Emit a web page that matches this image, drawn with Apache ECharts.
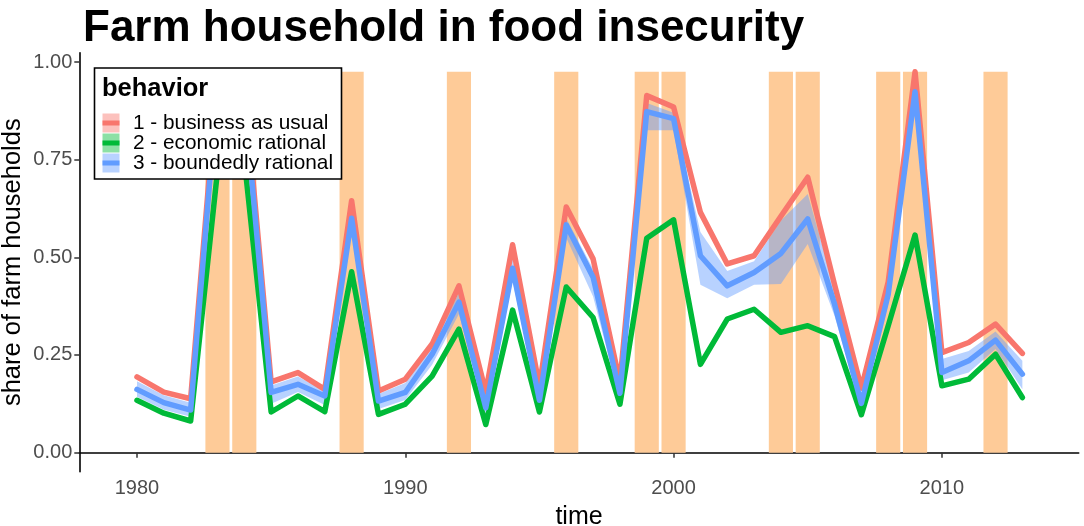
<!DOCTYPE html>
<html>
<head>
<meta charset="utf-8">
<script src="https://cdn.jsdelivr.net/npm/echarts@6/dist/echarts.min.js"></script>
<style>
html,body{margin:0;padding:0;background:#fff;}
#chart{width:1084px;height:526px;}
</style>
</head>
<body>
<div id="chart"></div>
<script>
var years = [1980,1981,1982,1983,1984,1985,1986,1987,1988,1989,1990,1991,1992,1993,1994,1995,1996,1997,1998,1999,2000,2001,2002,2003,2004,2005,2006,2007,2008,2009,2010,2011,2012,2013];
var businessAsUsual = [0.194,0.155,0.138,0.960,0.945,0.181,0.205,0.162,0.645,0.158,0.188,0.278,0.427,0.155,0.532,0.170,0.629,0.496,0.180,0.914,0.885,0.615,0.483,0.504,0.605,0.705,0.430,0.165,0.437,0.975,0.256,0.282,0.329,0.254];
var economicRational = [0.134,0.101,0.081,0.720,0.750,0.104,0.145,0.105,0.463,0.098,0.124,0.196,0.316,0.072,0.365,0.104,0.424,0.346,0.124,0.549,0.596,0.226,0.342,0.367,0.308,0.325,0.297,0.097,0.325,0.557,0.171,0.188,0.252,0.141];
var boundedlyRational = [0.162,0.128,0.109,0.930,0.910,0.154,0.175,0.145,0.600,0.132,0.154,0.252,0.385,0.115,0.472,0.134,0.583,0.449,0.152,0.873,0.855,0.504,0.427,0.461,0.510,0.598,0.380,0.126,0.405,0.924,0.205,0.235,0.288,0.201];
var boundedLow  = [0.143,0.110,0.092,0.900,0.880,0.125,0.155,0.122,0.570,0.112,0.135,0.225,0.355,0.095,0.440,0.115,0.550,0.400,0.135,0.825,0.825,0.430,0.395,0.430,0.432,0.534,0.350,0.110,0.380,0.900,0.185,0.205,0.265,0.162];
var boundedHigh = [0.183,0.147,0.128,0.950,0.930,0.172,0.195,0.158,0.625,0.150,0.178,0.270,0.410,0.135,0.500,0.155,0.600,0.470,0.170,0.895,0.870,0.565,0.465,0.490,0.594,0.662,0.420,0.145,0.440,0.945,0.240,0.260,0.310,0.235];
var crisisYears = [1983,1984,1988,1992,1996,1999,2000,2004,2005,2008,2009,2012];
var xTicks = [1980,1990,2000,2010];
var yTicks = [0,0.25,0.5,0.75,1];
var seriesNames = ['1 - business as usual','2 - economic rational','3 - boundedly rational'];
var seriesColors = ['#F8766D','#00BA38','#619CFF'];
var keyFills = ['rgba(248,118,109,0.45)','rgba(0,186,56,0.45)','rgba(97,156,255,0.45)'];

function pairs(vals){ return years.map(function(y,i){ return [y, vals[i]]; }); }
var barTop = Math.max.apply(null, businessAsUsual);
var FONT = "'Liberation Sans', Arial, sans-serif";

var chart = echarts.init(document.getElementById('chart'), null, {renderer:'canvas'});

var legendEls = [];
legendEls.push({type:'rect', z:100, shape:{x:94.5,y:68,width:247,height:111}, style:{fill:'#fff', stroke:'#000', lineWidth:1.6}});
legendEls.push({type:'text', z:101, x:102, y:89, style:{text:'behavior', fontSize:25.5, fontWeight:'bold', fontFamily:FONT, fill:'#000', verticalAlign:'middle', align:'left'}});
for (var k=0;k<3;k++){
  var cy = 123 + k*20;
  legendEls.push({type:'rect', z:101, shape:{x:102.5,y:cy-9.5,width:17,height:19}, style:{fill:keyFills[k]}});
  legendEls.push({type:'rect', z:102, shape:{x:102.5,y:cy-2.5,width:17,height:5}, style:{fill:seriesColors[k]}});
  legendEls.push({type:'text', z:101, x:133, y:cy+0.5, style:{text:seriesNames[k], fontSize:20.8, fontFamily:FONT, fill:'#000', verticalAlign:'middle', align:'left'}});
}

var lineBase = {type:'line', showSymbol:false, symbol:'none', animation:false, silent:true};

var option = {
  animation:false,
  backgroundColor:'#fff',
  title:{text:'Farm household in food insecurity', left:78, top:2, textStyle:{fontSize:44, fontWeight:'bold', fontFamily:FONT, color:'#000'}},
  grid:{left:79.3, right:5.3, top:52.7, bottom:54.3, containLabel:false, outerBoundsMode:'none'},
  xAxis:{
    type:'value', min:1977.85, max:2015.1,
    name:'time', nameLocation:'middle', nameGap:33, nameMoveOverlap:false,
    nameTextStyle:{fontSize:25, fontFamily:FONT, color:'#000'},
    axisLine:{show:true, lineStyle:{color:'#000', width:1.6}},
    axisTick:{show:true, length:5, lineStyle:{color:'#333', width:1.5}, customValues:xTicks},
    axisLabel:{show:true, margin:7, fontSize:20, fontFamily:FONT, color:'#4D4D4D', customValues:xTicks, formatter:function(v){return String(v);}},
    splitLine:{show:false}
  },
  yAxis:{
    type:'value', min:-0.0488, max:1.0238,
    name:'share of farm households', nameLocation:'middle', nameGap:53, nameRotate:90, nameMoveOverlap:false,
    nameTextStyle:{fontSize:25.5, fontFamily:FONT, color:'#000'},
    axisLine:{show:true, lineStyle:{color:'#000', width:1.6}},
    axisTick:{show:true, length:5, lineStyle:{color:'#333', width:1.5}, customValues:yTicks},
    axisLabel:{show:true, margin:7, fontSize:20, fontFamily:FONT, color:'#4D4D4D', customValues:yTicks, formatter:function(v){return v.toFixed(2);}},
    splitLine:{show:false}
  },
  graphic:{elements:legendEls},
  series:[
    {
      type:'custom', animation:false, silent:true, z:1,
      data: crisisYears.map(function(y){ return [y, barTop]; }),
      renderItem:function(params, api){
        var p1 = api.coord([api.value(0)-0.45, api.value(1)]);
        var p2 = api.coord([api.value(0)+0.45, 0]);
        return {type:'rect', shape:{x:p1[0], y:p1[1], width:p2[0]-p1[0], height:p2[1]-p1[1]}, style:{fill:'#FECB98'}};
      }
    },
    {
      type:'custom', animation:false, silent:true, z:2,
      data: years.map(function(y,i){ return [y, boundedLow[i], boundedHigh[i]]; }),
      renderItem:function(params, api){
        if (params.dataIndex !== 0) return null;
        var pts = [];
        for (var i=0;i<years.length;i++){ pts.push(api.coord([years[i], boundedHigh[i]])); }
        for (var j=years.length-1;j>=0;j--){ pts.push(api.coord([years[j], boundedLow[j]])); }
        return {type:'polygon', shape:{points:pts}, style:{fill:'rgba(97,156,255,0.45)'}};
      }
    },
    Object.assign({}, lineBase, {name:seriesNames[0], z:3, data:pairs(businessAsUsual), lineStyle:{color:seriesColors[0], width:5.5, cap:'round', join:'round'}}),
    Object.assign({}, lineBase, {name:seriesNames[1], z:4, data:pairs(economicRational), lineStyle:{color:seriesColors[1], width:5.5, cap:'round', join:'round'}}),
    Object.assign({}, lineBase, {name:seriesNames[2], z:5, data:pairs(boundedlyRational), lineStyle:{color:seriesColors[2], width:5.5, cap:'round', join:'round'}})
  ]
};
chart.setOption(option);
</script>
</body>
</html>
